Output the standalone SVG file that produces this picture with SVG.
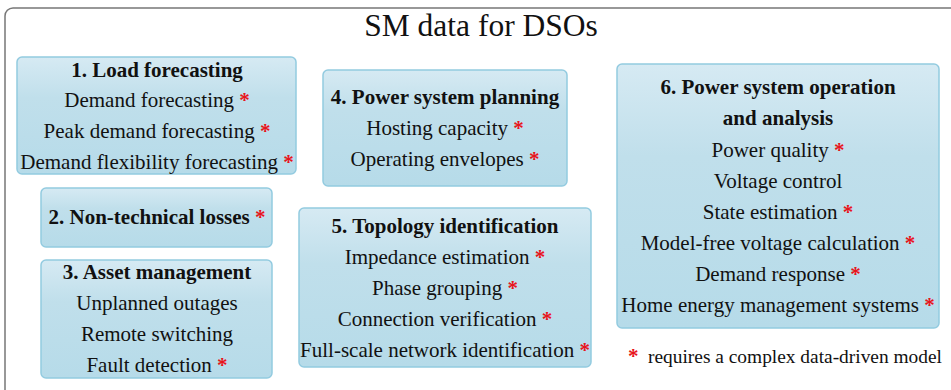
<svg xmlns="http://www.w3.org/2000/svg" width="951" height="390" viewBox="0 0 951 390">
  <defs>
    <linearGradient id="boxFill" x1="0" y1="0" x2="0" y2="1">
      <stop offset="0" stop-color="#d6eaf3"/>
      <stop offset="0.35" stop-color="#c0dfeb"/>
      <stop offset="1" stop-color="#b6dbe9"/>
    </linearGradient>
  </defs>
  <style>
    .frame { fill: #ffffff; stroke: #777777; stroke-width: 1.5; }
    .box { fill: url(#boxFill); stroke: #93cbe0; stroke-width: 1.5; }
    text { font-family: "Liberation Serif", "DejaVu Serif", serif; font-size: 21px; fill: #111111; text-anchor: middle; }
    .title { font-size: 31.5px; }
    .head { font-weight: bold; }
    .star { fill: #e8141b; font-weight: bold; }
    .left { text-anchor: start; }
    .note { font-size: 19.4px; }
  </style>

  <rect x="0" y="0" width="951" height="390" fill="#ffffff"/>
  <!-- outer frame, runs off the right and bottom edges -->
  <rect class="frame" x="5" y="8" width="960" height="400" rx="8"/>
  <text class="title" x="481" y="36">SM data for DSOs</text>

  <g id="load-forecasting">
    <rect class="box" x="17" y="57" width="279" height="117" rx="5"/>
    <text class="head" x="157" y="77">1. Load forecasting</text>
    <text x="157" y="107">Demand forecasting <tspan class="star">*</tspan></text>
    <text x="157" y="138">Peak demand forecasting <tspan class="star">*</tspan></text>
    <text x="157" y="169">Demand flexibility forecasting <tspan class="star">*</tspan></text>
  </g>

  <g id="non-technical-losses">
    <rect class="box" x="41" y="188" width="231" height="59" rx="5"/>
    <text class="head" x="157" y="224">2. Non-technical losses <tspan class="star">*</tspan></text>
  </g>

  <g id="asset-management">
    <rect class="box" x="41" y="260" width="231" height="118" rx="5"/>
    <text class="head" x="157" y="279">3. Asset management</text>
    <text x="157" y="310">Unplanned outages</text>
    <text x="157" y="341">Remote switching</text>
    <text x="157" y="372">Fault detection <tspan class="star">*</tspan></text>
  </g>

  <g id="power-system-planning">
    <rect class="box" x="323" y="70" width="244" height="116" rx="5"/>
    <text class="head" x="445" y="104">4. Power system planning</text>
    <text x="445" y="135">Hosting capacity <tspan class="star">*</tspan></text>
    <text x="445" y="166">Operating envelopes <tspan class="star">*</tspan></text>
  </g>

  <g id="topology-identification">
    <rect class="box" x="299" y="208" width="292" height="159" rx="5"/>
    <text class="head" x="445" y="233">5. Topology identification</text>
    <text x="445" y="264">Impedance estimation <tspan class="star">*</tspan></text>
    <text x="445" y="295">Phase grouping <tspan class="star">*</tspan></text>
    <text x="445" y="326">Connection verification <tspan class="star">*</tspan></text>
    <text x="445" y="357">Full-scale network identification <tspan class="star">*</tspan></text>
  </g>

  <g id="operation-analysis">
    <rect class="box" x="617" y="64" width="322" height="264" rx="5"/>
    <text class="head" x="778" y="94">6. Power system operation</text>
    <text class="head" x="778" y="125">and analysis</text>
    <text x="778" y="157">Power quality <tspan class="star">*</tspan></text>
    <text x="778" y="188">Voltage control</text>
    <text x="778" y="219">State estimation <tspan class="star">*</tspan></text>
    <text x="778" y="250">Model-free voltage calculation <tspan class="star">*</tspan></text>
    <text x="778" y="281">Demand response <tspan class="star">*</tspan></text>
    <text x="778" y="312">Home energy management systems <tspan class="star">*</tspan></text>
  </g>

  <g id="legend">
    <text class="star left" x="628" y="363">*</text>
    <text class="left note" x="648" y="363">requires a complex data-driven model</text>
  </g>

  <g id="connectors"></g>
</svg>
